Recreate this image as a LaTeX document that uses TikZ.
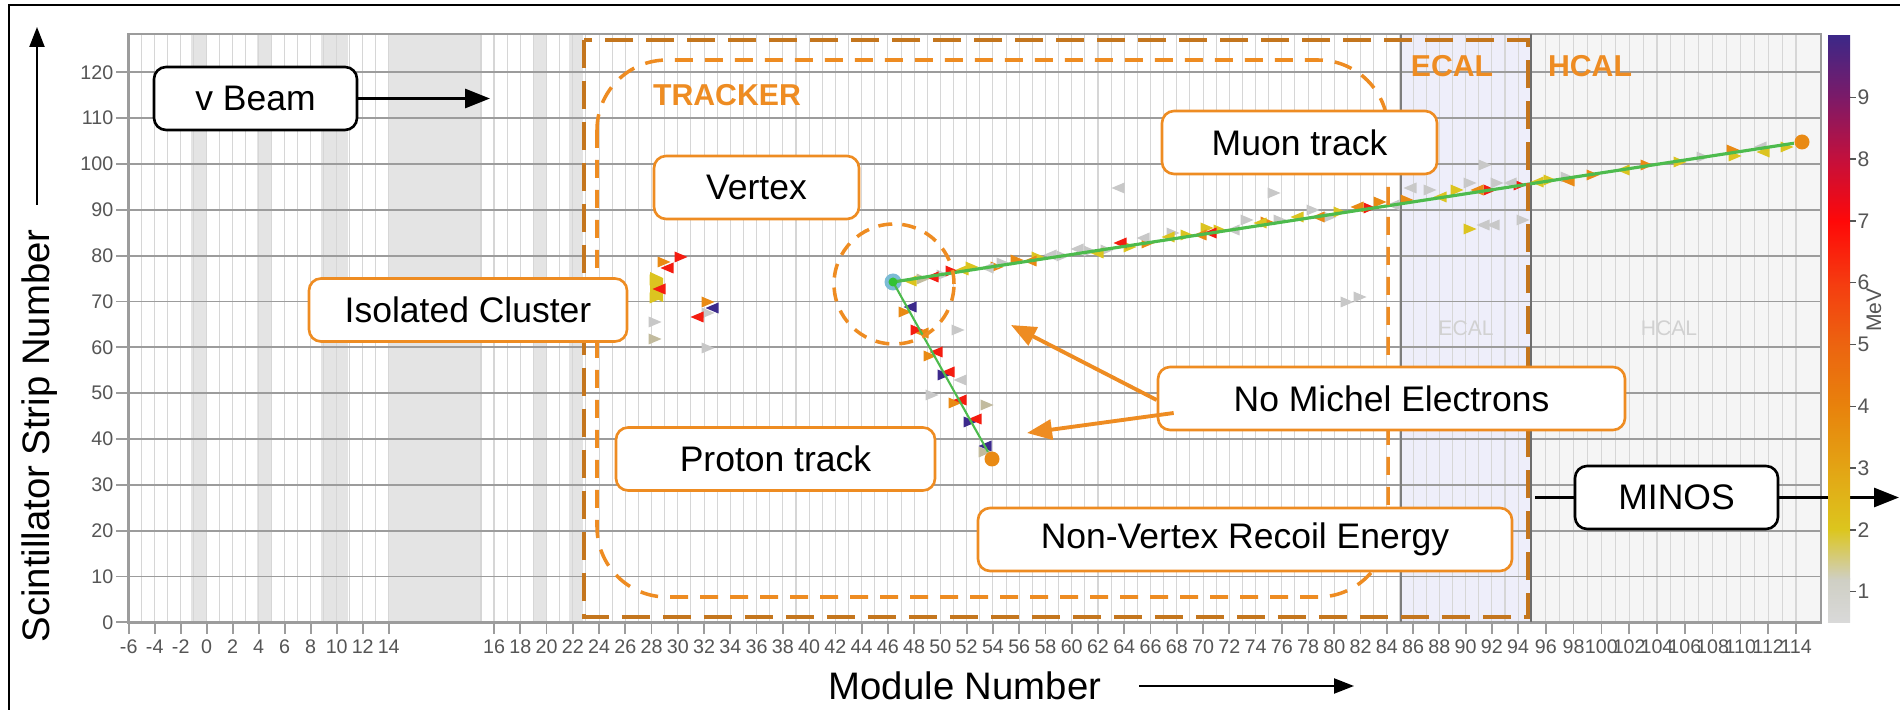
\documentclass[tikz,border=0pt]{standalone}
\usepackage{fontspec}
\setmainfont{Liberation Sans}
\usetikzlibrary{arrows.meta,calc}
\definecolor{boxor}{HTML}{EE8C22}
\definecolor{darkor}{HTML}{C4761E}
\definecolor{gridv}{HTML}{D6D6D6}
\definecolor{gridh}{HTML}{9C9C9C}
\definecolor{bandc}{HTML}{E4E4E4}
\definecolor{ecalc}{HTML}{EEEEFA}
\definecolor{hcalc}{HTML}{F5F5F5}
\definecolor{trkgreen}{HTML}{4DBB4D}
\definecolor{ticktxt}{HTML}{555555}
% hit colours
\definecolor{hg}{HTML}{C8C8C8}
\definecolor{hb}{HTML}{C2BB9E}
\definecolor{hy}{HTML}{DCC420}
\definecolor{ho}{HTML}{E98A14}
\definecolor{hr}{HTML}{F41C10}
\definecolor{hi}{HTML}{3C2A8C}
% colour bar stops
\definecolor{cbA}{HTML}{D9D9D9}
\definecolor{cbB}{HTML}{CFCFC4}
\definecolor{cbC}{HTML}{DCC61E}
\definecolor{cbD}{HTML}{E3A414}
\definecolor{cbE}{HTML}{E8820C}
\definecolor{cbF}{HTML}{EC6410}
\definecolor{cbG}{HTML}{F53C10}
\definecolor{cbH}{HTML}{FF0808}
\definecolor{cbI}{HTML}{C4103C}
\definecolor{cbJ}{HTML}{7C1A68}
\definecolor{cbK}{HTML}{3C2888}
\tikzset{
  lbl/.style={draw=boxor, line width=0.75pt, rounded corners=1.2mm, fill=white, minimum height=6.3mm, inner sep=0pt, font=\fontsize{10.1}{12}\selectfont},
  blk/.style={lbl, draw=black},
  vgrid/.style={draw=gridv, line width=0.3pt},
  hgrid/.style={draw=gridh, line width=0.5pt},
  trk/.style={draw=trkgreen, line width=0.9pt},
  trackzone/.style={draw=boxor, line width=1pt, dash pattern=on 1.8mm off 1.2mm},
  detzone/.style={draw=darkor, line width=1.2pt, dash pattern=on 2.8mm off 1.3mm},
  oarr/.style={-{Triangle[length=2.5mm,width=2mm]}, draw=boxor, fill=boxor, line width=1.1pt},
  barr/.style={-{Triangle[length=2.5mm,width=1.9mm]}, line width=0.85pt},
  tlbl/.style={font=\fontsize{5.6}{6}\selectfont, text=ticktxt, inner sep=0pt},
  zonelbl/.style={font=\fontsize{8.6}{10}\selectfont\bfseries, text=boxor, inner sep=0pt},
  endpt/.style={circle, fill=ho, inner sep=0pt, minimum size=1.5mm},
}
\newcommand{\hitR}[3]{\fill[fill=#3] (#1-6.5,#2-5.5) -- (#1+6.5,#2) -- (#1-6.5,#2+5.5) -- cycle;}
\newcommand{\hitL}[3]{\fill[fill=#3] (#1+6.5,#2-5.5) -- (#1-6.5,#2) -- (#1+6.5,#2+5.5) -- cycle;}

\begin{document}
\begin{tikzpicture}[x=0.1mm, y=-0.1mm]
  \useasboundingbox (0,0) rectangle (1900,710);
  \fill[white] (0,0) rectangle (1900,710);
  % detector regions
  \fill[ecalc] (1401,34) rectangle (1531,622.3);
  \fill[hcalc] (1531,34) rectangle (1821,622.3);
  \foreach \xa/\xb in {191/206,257/271,321/348,388/481,533/547,569/583}
    \fill[bandc] (\xa,34) rectangle (\xb,622.3);
  % grid
  \foreach \m in {-6,...,14}{\pgfmathsetmacro\xx{206.7+13*\m}\draw[vgrid] (\xx,34) -- (\xx,622.3);}
  \foreach \m in {16,...,94}{\pgfmathsetmacro\xx{494+13.13*(\m-16)}\draw[vgrid] (\xx,34) -- (\xx,622.3);}
  \foreach \m in {95,...,114}{\pgfmathsetmacro\xx{1518+13.9*(\m-94)}\draw[vgrid] (\xx,34) -- (\xx,622.3);}
  \draw[vgrid] (481,34) -- (481,622.3);
  \foreach \s in {0,10,...,120}{\pgfmathsetmacro\yy{622.3-4.583*\s}
    \draw[hgrid] (116,\yy) -- (1821,\yy);
    \node[tlbl, anchor=east] at (114,\yy) {\s};}
  % x ticks
  \foreach \m in {-6,-4,...,14}{\pgfmathsetmacro\xx{206.7+13*\m}
    \draw[gridh, line width=0.5pt] (\xx,622.3) -- (\xx,634); \node[tlbl] at (\xx,647) {\m};}
  \foreach \m in {16,18,...,94}{\pgfmathsetmacro\xx{494+13.13*(\m-16)}
    \draw[gridh, line width=0.5pt] (\xx,622.3) -- (\xx,634); \node[tlbl] at (\xx,647) {\m};}
  \foreach \m in {96,98,...,114}{\pgfmathsetmacro\xx{1518+13.9*(\m-94)}
    \draw[gridh, line width=0.5pt] (\xx,622.3) -- (\xx,634); \node[tlbl] at (\xx,647) {\m};}
  \draw[gridh, line width=0.7pt] (128.6,622.3) -- (128.6,34) -- (1821,34) -- (1821,622.3) -- cycle;
  \draw[gridh!80!black, line width=0.5pt] (1401,34) -- (1401,622.3);
  \draw[gridh!70!black, line width=0.7pt] (1531,34) -- (1531,622.3);
  \node[font=\fontsize{6}{7}\selectfont, text=black!18] at (1466,328) {ECAL};
  \node[font=\fontsize{6}{7}\selectfont, text=black!18] at (1669,328) {HCAL};
  % hits
  \fill[hy] (650,272) -- (663,278) -- (663,302) -- (650,296) -- cycle;
  \foreach \hx/\hy/\hc in {681/257/hr,664/262/ho,656/280/hy,656/298/hy,708/302/ho,708/313/hg,655/322/hg,655/339/hb,708/348/hg,
    905/312/ho,917/330/hr,958/330/hg,930/356/ho,944/375/hi,932/395/hg,955/403/ho,987/405/hb,970/422/hi,985/452/hb,
    923/279/hb,943/275/hg,952/271/hr,972/267/hy,997/267/ho,1003/263/hg,1017/260/ho,1038/257/hy,1063/256/hg,1090/251/hg,
    1107/250/hg,1130/247/hy,1148/243/ho,1173/233/hg,1187/235/hy,1207/228/hy,1220/230/hy,1247/220/hg,1267/222/ho,1280/220/hg,
    1313/210/hg,1330/217/hg,1340/212/hy,1370/208/hr,1380/202/ho,1407/200/ho,1430/190/hg,1457/190/hy,1470/183/hg,1490/190/hr,
    1497/183/hg,1520/185/hr,1550/180/hy,1567/177/hg,1593/175/ho,1647/165/ho,1680/162/hy,1703/157/hg,1735/156/hy,1733/150/ho,
    1787/147/hy,1274/193/hg,1485/165/hg,1470/229/hy,1523/220/hg,1347/302/hg,1360/297/hg}
    {\hitR{\hx}{\hy}{\hc}}
  \foreach \hx/\hy/\hc in {667/268/hr,659/289/hr,712/308/hi,697/317/hr,
    910/307/hi,922/333/ho,936/352/hr,948/372/hr,960/380/hg,960/400/hr,975/419/hr,985/446/hi,
    910/281/hy,932/277/hr,962/270/hy,987/268/hg,1030/261/ho,1050/255/hg,1077/249/hg,1097/253/hy,1120/243/hr,1143/238/hg,
    1168/237/hy,1200/235/ho,1210/233/hr,1233/230/hg,1260/223/hy,1297/217/hy,1318/217/ho,1357/207/ho,1393/205/hg,1440/197/hy,
    1477/190/ho,1510/183/hg,1537/182/hy,1568/181/ho,1623/170/hy,1760/147/hg,1763/152/hy,
    1118/188/hg,1410/188/hg,1483/225/hg,1493/225/hg}
    {\hitL{\hx}{\hy}{\hc}}
  % tracks
  \node[circle, fill=cyan!45!teal!60, inner sep=0pt, minimum size=1.7mm] (vtx) at (893,282) {};
  \node[endpt] (muend) at (1802,142) {};
  \node[endpt] (pend) at (992,459) {};
  \draw[trk] (vtx.center) -- (muend);
  \draw[trk, line width=0.6pt] (vtx.center) -- (pend);
  \fill[green!70!black!80] (vtx.center) circle [radius=0.45mm];
  % zones
  \draw[detzone] (584,40) rectangle (1528,617);
  \draw[trackzone, rounded corners=7mm] (597,60) rectangle (1388,597);
  \draw[trackzone, dash pattern=on 1.4mm off 1mm] (894,284) circle [radius=6mm];
  \node[zonelbl] at (727,95) {TRACKER};
  \node[zonelbl] at (1452,66) {ECAL};
  \node[zonelbl] at (1590,66) {HCAL};
  % labels
  \node[blk, minimum width=20.3mm] (vbeam) at (255.5,98.5) {v Beam};
  \node[lbl, minimum width=31.8mm] (iso) at (468,310) {Isolated Cluster};
  \node[lbl, minimum width=20.5mm] (vertex) at (756.5,187.5) {Vertex};
  \node[lbl, minimum width=27.5mm] (muon) at (1299.5,142.5) {Muon track};
  \node[lbl, minimum width=46.7mm] (michel) at (1391.5,398.5) {No Michel Electrons};
  \node[lbl, minimum width=31.9mm] (proton) at (775.5,459) {Proton track};
  \node[lbl, minimum width=53.4mm] (recoil) at (1245,539.5) {Non-Vertex Recoil Energy};
  \node[blk, minimum width=20.3mm] (minos) at (1676.5,497.5) {MINOS};
  % arrows
  \coordinate (beamtip) at (490,98.5);
  \coordinate (minosin) at (1535,497.5);
  \coordinate (minostip) at (1899,497.5);
  \coordinate (michA) at (1011,325);
  \coordinate (michB) at (1027,433);
  \draw[barr] (vbeam) -- (beamtip);
  \draw[line width=0.85pt] (minosin) -- (minos);
  \draw[barr] (minos) -- (minostip);
  \draw[oarr] ([yshift=-0.15mm]michel.west) -- (michA);
  \draw[oarr] ([xshift=1.7mm,yshift=-1.45mm]michel.west) -- (michB);
  % colour bar
  \foreach \ya/\yb/\ca/\cb in {622.6/579.3/cbA/cbB,579.3/529.9/cbB/cbC,529.9/468.1/cbC/cbD,468.1/406.3/cbD/cbE,
    406.3/344.5/cbE/cbF,344.5/282.7/cbF/cbG,282.7/220.9/cbG/cbH,220.9/159.1/cbH/cbI,159.1/97.3/cbI/cbJ,97.3/35.5/cbJ/cbK}
    \shade[bottom color=\ca, top color=\cb] (1828,\ya+0.4) rectangle (1850,\yb-0.4);
  \foreach \v in {1,...,9}{\pgfmathsetmacro\yy{591.7-(\v-1)*61.8}
    \draw[ticktxt, line width=0.4pt] (1850,\yy) -- (1856,\yy);
    \node[tlbl, anchor=west, font=\fontsize{6}{7}\selectfont] at (1857,\yy) {\v};}
  \node[tlbl, rotate=90, font=\fontsize{6}{7}\selectfont] at (1874,310) {MeV};
  % axis titles
  \node[rotate=90, font=\fontsize{10.9}{12}\selectfont] (ytitle) at (40,436) {Scintillator Strip Number};
  \node[font=\fontsize{10.9}{12}\selectfont] (xtitle) at (965,686) {Module Number};
  \coordinate (ya) at (37,205);
  \coordinate (yb) at (37,27);
  \coordinate (xa) at (1139,686);
  \coordinate (xb) at (1354,686);
  \draw[-{Triangle[length=2mm,width=1.5mm]}, line width=0.6pt] (ya) -- (yb);
  \draw[-{Triangle[length=2mm,width=1.5mm]}, line width=0.6pt] (xa) -- (xb);
  % frame
  \draw[line width=0.6pt] (9,710) -- (9,5) -- (1900,5);
\end{tikzpicture}
\end{document}
